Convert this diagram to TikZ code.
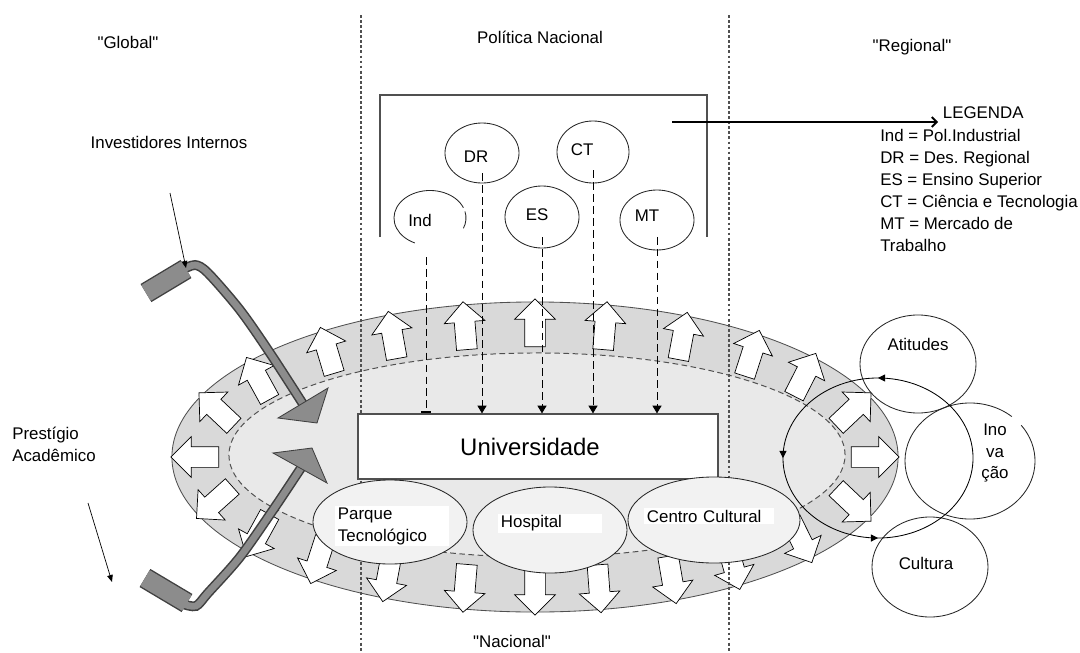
\documentclass[tikz,border=0pt]{standalone}
\usepackage{fontspec}
\setmainfont{Liberation Sans}
\usetikzlibrary{shapes.geometric, shapes.arrows, arrows.meta, positioning, decorations.markings}
\frenchspacing

\definecolor{ringgray}{HTML}{D9D9D9}
\definecolor{coregray}{HTML}{E9E9E9}
\definecolor{bandgray}{HTML}{8C8C8C}
\definecolor{linegray}{HTML}{505050}

\begin{document}
\begin{tikzpicture}[x=0.025cm, y=-0.025cm,
    font=\fontsize{12}{15.6}\selectfont,
    ell/.style={draw=black!85, ellipse, inner sep=0pt, line width=0.6pt},
    place/.style={ell, fill=black!5},
    whitelbl/.style={fill=white, inner xsep=2pt, inner ysep=1pt, align=left},
    outarrow/.style={single arrow, draw=black, fill=white, line width=0.5pt, inner xsep=0pt, inner ysep=0.25cm,
        minimum height=1.2cm, single arrow head extend=0.25cm},
    dashcon/.style={dash pattern=on 5.5pt off 3pt, line width=0.6pt, -{Triangle[length=5.5pt, width=6.5pt]}},
    dotline/.style={linegray, dash pattern=on 2pt off 1.6pt, line width=0.9pt},
    thinarrow/.style={line width=0.5pt, -{Triangle[length=5pt, width=4pt]}},
    legarrow/.style={line width=1.3pt, -{Straight Barb[length=3.5pt, width=7pt]}},
    cycleline/.style={line width=0.6pt, postaction={decorate}, decoration={markings,
        mark=at position 0.25 with {\arrow{Triangle[length=5pt, width=5pt]}},
        mark=at position 0.5 with {\arrow{Triangle[length=5pt, width=5pt]}},
        mark=at position 0.75 with {\arrow{Triangle[length=5pt, width=5pt]}}}}
]
\useasboundingbox (0,0) rectangle (1080,652);

% Headings
\node (glob) at (128,42) {\textquotedbl Global\textquotedbl};
\node (polnac) at (540,37) {Política Nacional};
\node (regio) at (912,47) {\textquotedbl Regional\textquotedbl};
\node (nacio) at (512,641) {\textquotedbl Nacional\textquotedbl};

% Region ring
\fill[ringgray] (535,457) ellipse [x radius=9.075cm, y radius=3.875cm];
\draw[linegray, line width=0.6pt] (535,457) ellipse [x radius=9.075cm, y radius=3.875cm];
\fill[coregray] (537,455) ellipse [x radius=7.7cm, y radius=2.55cm];
\draw[linegray, line width=0.7pt, dash pattern=on 4pt off 2.5pt] (537,455) ellipse [x radius=7.7cm, y radius=2.55cm];

% Outward arrows
\foreach \t in {180,160,145,128,115,102,90,78,64,50,37,20,0,-20,-38,-54,-66,-79,-90,-102,-116,-130,-145,-161} {
    \pgfmathsetmacro\rot{atan2(335*sin(\t), 129*cos(\t))}
    \node[outarrow, rotate=\rot] (out\t) at ({535+335*cos(\t)}, {457-129*sin(\t)}) {};
}

% Separators
\draw[dotline] (361,15) -- (361,652);
\draw[dotline] (729,15) -- (729,652);

% Policy frame
\draw[linegray, line width=0.9pt] (380,237) -- (380,95) -- (707,95) -- (707,237);

\node[ell, draw=none, minimum width=1.8cm, minimum height=1.375cm,
    label={[xshift=-0.25cm, yshift=-0.05cm]center:Ind}] (ind) at (430,218) {};
\draw[black!85, line width=0.6pt] (ind.center) ++(22:0.9cm and 0.6875cm)
    arc[start angle=22, end angle=245, x radius=0.9cm, y radius=0.6875cm];
\draw[black!85, line width=0.6pt] (ind.center) ++(14:0.9cm and 0.6875cm)
    arc[start angle=14, end angle=-22, x radius=0.9cm, y radius=0.6875cm];
\node[ell, minimum width=1.85cm, minimum height=1.5cm,
    label={[xshift=-0.15cm, yshift=-0.1cm]center:DR}] (dr) at (482,153) {};
\node[ell, minimum width=1.8cm, minimum height=1.55cm,
    label={[xshift=-0.27cm, yshift=0.05cm]center:CT}] (ct) at (593,152) {};
\node[ell, minimum width=1.85cm, minimum height=1.55cm,
    label={[xshift=-0.12cm, yshift=0.05cm]center:ES}] (es) at (542,217) {};
\node[ell, minimum width=1.85cm, minimum height=1.5cm,
    label={[xshift=-0.25cm, yshift=0.12cm]center:MT}] (mt) at (657,220) {};

% University
\node[draw=linegray, fill=white, line width=0.9pt, minimum width=9cm, minimum height=1.625cm,
    font=\fontsize{17}{20}\selectfont] (uni) at (538,446.5) {\hspace{-0.4cm}Universidade};

\coordinate (indfoot) at (426,257);
\draw[dash pattern=on 5.5pt off 3pt, line width=0.6pt, -{Bar[width=7pt, line width=1.6pt]}] (indfoot) -- (indfoot |- uni.north);
\draw[dashcon] ([yshift=-0.5cm]dr.center) -- (dr.center |- uni.north);
\draw[dashcon] ([yshift=-0.5cm]es.center) -- (es.center |- uni.north);
\draw[dashcon] ([yshift=-0.45cm]ct.center) -- (ct.center |- uni.north);
\draw[dashcon] ([yshift=-0.42cm]mt.center) -- (mt.center |- uni.north);

% Places
\node[place, minimum width=3.85cm, minimum height=2.1cm] (parque) at (390,522) {};
\node[place, minimum width=3.85cm, minimum height=2.15cm] (hosp) at (550,530) {};
\node[place, minimum width=4.3cm, minimum height=2.15cm] (centro) at (714,520) {};
\node[whitelbl, text width=2.7cm] (parquetxt) at (392,526) {Parque\\Tecnológico};
\node[whitelbl, text width=2.45cm] (hosptxt) at (550,523.5) {Hospital};
\node[whitelbl, text width=3.1cm] (centrotxt) at (709,516) {Centro Cultural};

% Bent flows
\draw[black!75, line width=15pt] (146,293) -- (186,269);
\draw[black!75, line width=15pt] (145,578) -- (187,603);
\draw[black!75, line width=7pt] plot[smooth] coordinates {(182,270) (195,265) (208,273) (240,310) (270,353) (303,404)};
\draw[black!75, line width=7pt] plot[smooth] coordinates {(183,604) (196,606) (208,593) (240,557) (273,510) (301,468)};
\draw[bandgray, line width=13pt] (146,293) -- (186,269);
\draw[bandgray, line width=13pt] (145,578) -- (187,603);
\draw[bandgray, line width=4.8pt] plot[smooth] coordinates {(182,270) (195,265) (208,273) (240,310) (270,353) (303,404)};
\draw[bandgray, line width=4.8pt] plot[smooth] coordinates {(183,604) (196,606) (208,593) (240,557) (273,510) (301,468)};
\draw[black!75, fill=bandgray, line width=0.6pt] (278,418) -- (328,388) -- (317,423) -- cycle;
\draw[black!75, fill=bandgray, line width=0.6pt] (273,453) -- (312,448) -- (327,483) -- cycle;

\node (invest) at (169,142) {Investidores Internos};
\coordinate (invtail) at (170,193);
\coordinate (invtip) at (186,268);
\draw[thinarrow] (invtail) -- (invtip);
\node[align=left, anchor=west, inner sep=0pt] (prest) at (12,444) {Prestígio\\Acadêmico};
\coordinate (presttail) at (88,503);
\coordinate (presttip) at (112,582);
\draw[thinarrow] (presttail) -- (presttip);

% Regional circles
\node[ell, minimum width=2.9cm, minimum height=2.45cm,
    label={[yshift=0.48cm]center:Atitudes}] (atit) at (918,364) {};
\node[ell, minimum width=2.9cm, minimum height=2.5cm,
    label={[xshift=-0.1cm, yshift=0.1cm]center:Cultura}] (cult) at (930,567) {};
\node[ell, draw=none, minimum width=3.25cm, minimum height=2.9cm] (inov) at (970,461) {};
\draw[black!85, line width=0.6pt] (inov.center) ++(50:1.625cm and 1.45cm)
    arc[start angle=50, end angle=398, x radius=1.625cm, y radius=1.45cm];
\node[align=center] (inovtxt) at (995,453) {Ino\\va\\ção};
\coordinate (cyc) at (878,458);
\draw[cycleline] (cyc) ++(0:2.375cm and 2cm) arc[start angle=0, end angle=360, x radius=2.375cm, y radius=2cm];

% Legend
\node[anchor=west] (legenda) at (938,113) {LEGENDA};
\node[anchor=north west, align=left, inner sep=0pt] (legtext) at (880,129)
    {Ind = Pol.Industrial\\DR = Des. Regional\\ES = Ensino Superior\\CT = Ciência e Tecnologia\\MT = Mercado de\\Trabalho};
\coordinate (legstart) at (672,122);
\draw[legarrow] (legstart) -- (legenda.west |- legstart);

\end{tikzpicture}
\end{document}
